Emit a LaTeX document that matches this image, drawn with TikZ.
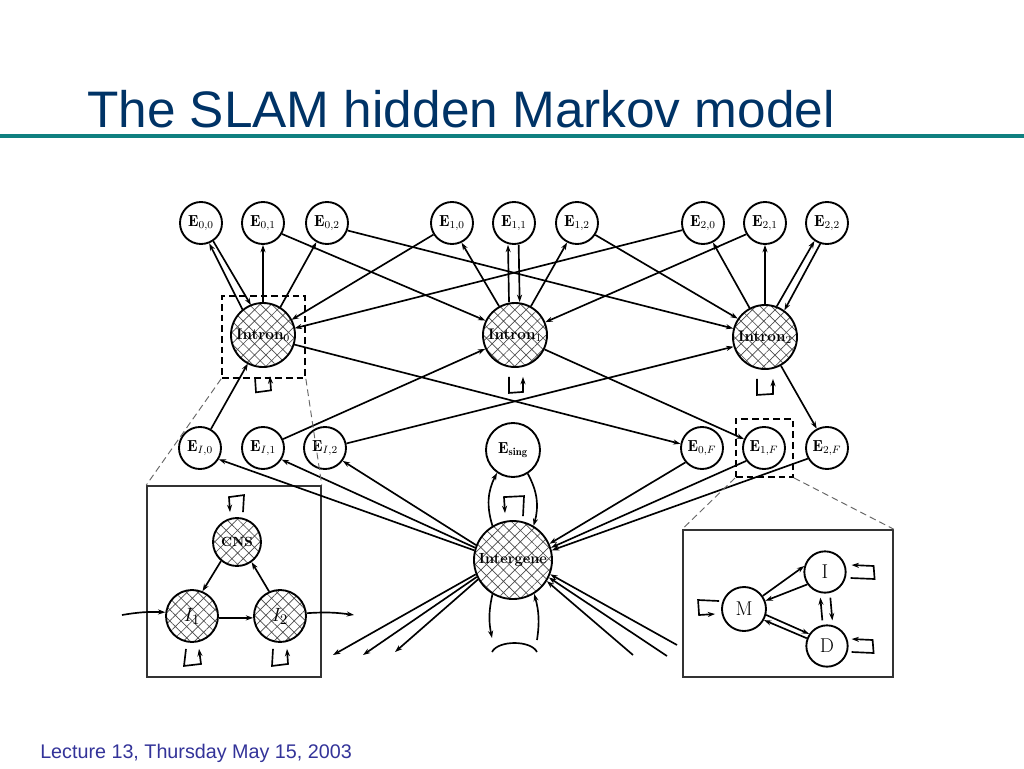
\documentclass[tikz,border=0pt]{standalone}
\usepackage{fontspec}
\newfontfamily\arialf{Liberation Sans}
\usetikzlibrary{arrows.meta,patterns.meta,calc}
\definecolor{titleblue}{RGB}{0,51,102}
\definecolor{footblue}{RGB}{51,51,153}
\definecolor{rulecol}{RGB}{16,128,128}
\tikzset{
  sn/.style={circle, draw, line width=1.4pt, minimum size=31.5pt, inner sep=0pt, fill=white,
     font=\fontsize{12}{14}\selectfont},
  hn/.style={circle, draw, line width=1.4pt, minimum size=48pt, inner sep=0pt,
     pattern={Hatch[angle=45,distance=6pt,line width=0.5pt]}, pattern color=black!70,
     font=\fontsize{11.5}{13}\selectfont},
  arr/.style={-{Stealth[length=5.5pt,width=3.8pt]}, line width=1.25pt},
  ln/.style={line width=1.25pt},
  dbox/.style={rectangle, draw, dashed, dash pattern=on 5pt off 3pt, line width=1.3pt, inner sep=0pt},
  ibox/.style={rectangle, draw=black!80, line width=1.2pt, inner sep=0pt},
  zoomln/.style={draw=black!60, dash pattern=on 5pt off 3pt, line width=0.7pt},
}
\begin{document}
\begin{tikzpicture}[x=0.75pt,y=-0.75pt]
\useasboundingbox (0,0) rectangle (1024,768);
\fill[white] (0,0) rectangle (1024,768);

% title and footer
\node[anchor=base west, inner sep=0pt, text=titleblue, font=\arialf\fontsize{38.5}{40}\selectfont] (title) at (87,127) {The SLAM hidden Markov model};
\fill[rulecol] (0,134) rectangle (1024,138);
\node[anchor=base west, inner sep=0pt, text=footblue, font=\arialf\fontsize{14.8}{16}\selectfont] (foot) at (40,758) {Lecture 13, Thursday May 15, 2003};

% inset boxes and dashed boxes
\node[ibox, minimum width=130.5pt, minimum height=143.25pt] (insL) at (234,581.5) {};
\node[ibox, minimum width=157.5pt, minimum height=110.25pt] (insR) at (788,603.5) {};
\node[dbox, minimum width=62.25pt, minimum height=61.5pt] (box0) at (263.5,337) {};
\node[dbox, minimum width=42.75pt, minimum height=43.5pt] (box1F) at (764.5,448) {};

% top row
\node[sn] (e00) at (201,223) {$\mathbf{E}_{0,0}$};
\node[sn] (e01) at (263,223) {$\mathbf{E}_{0,1}$};
\node[sn] (e02) at (327,223) {$\mathbf{E}_{0,2}$};
\node[sn] (e10) at (452,223) {$\mathbf{E}_{1,0}$};
\node[sn] (e11) at (514,223) {$\mathbf{E}_{1,1}$};
\node[sn] (e12) at (577,223) {$\mathbf{E}_{1,2}$};
\node[sn] (e20) at (703,223) {$\mathbf{E}_{2,0}$};
\node[sn] (e21) at (765,223) {$\mathbf{E}_{2,1}$};
\node[sn] (e22) at (827,223) {$\mathbf{E}_{2,2}$};

% introns
\node[hn] (in0) at (263,335) {\textbf{Intron}${}_0$};
\node[hn] (in1) at (515,335) {\textbf{Intron}${}_1$};
\node[hn] (in2) at (765,337) {\textbf{Intron}${}_2$};

% middle row
\node[sn] (eI0) at (200,448) {$\mathbf{E}_{I,0}$};
\node[sn] (eI1) at (263,448) {$\mathbf{E}_{I,1}$};
\node[sn] (eI2) at (325,448) {$\mathbf{E}_{I,2}$};
\node[sn, minimum size=40.5pt] (esing) at (513,450) {$\mathbf{E}_{\mathbf{sing}}$};
\node[sn] (e0F) at (702,448) {$\mathbf{E}_{0,F}$};
\node[sn] (e1F) at (764,448) {$\mathbf{E}_{1,F}$};
\node[sn] (e2F) at (827,448) {$\mathbf{E}_{2,F}$};

% intergene
\node[hn, minimum size=58.5pt, font=\fontsize{11}{12}\selectfont] (ig) at (513,560) {\textbf{Intergene}};

% left inset
\node[hn, minimum size=36pt, font=\fontsize{10}{11}\selectfont] (cns) at (237,542) {\textbf{CNS}};
\node[hn, minimum size=39pt, font=\fontsize{15}{16}\selectfont] (i1) at (192,616) {$I_1$};
\node[hn, minimum size=39pt, font=\fontsize{15}{16}\selectfont] (i2) at (280,616) {$I_2$};

% right inset
\node[sn, minimum size=33pt, font=\fontsize{15}{16}\selectfont] (M) at (744,609) {M};
\node[sn, minimum size=31pt, font=\fontsize{15}{16}\selectfont] (I) at (825,572) {I};
\node[sn, minimum size=31pt, font=\fontsize{15}{16}\selectfont] (D) at (827,646) {D};

% ---- edges: intron 0 ----
\draw[arr] (in0.129) -- (e00.-68);
\draw[arr] (e00.-56) -- (in0.112);
\draw[arr] (in0.north) -- (e01.south);
\draw[arr] (in0.58) -- (e02.-119);
\draw[arr] (e01.-30) -- (in1.154);
\draw[arr] (e02.-20) -- (in2.165);
\draw[arr] (e10.212) -- (in0.28);
\draw[arr] (e20.199) -- (in0.12);
% intron 1
\draw[arr] (in1.119) -- (e10.-64);
\draw[arr] ([xshift=-4.5pt]in1.north) -- ([xshift=-4.5pt]e11.south);
\draw[arr] ([xshift=3.5pt]e11.south) -- ([xshift=3.5pt]in1.north);
\draw[arr] (in1.61) -- (e12.-117);
\draw[arr] (e12.-33) -- (in2.146);
\draw[arr] (e21.211) -- (in1.23);
% intron 2
\draw[arr] (in2.118) -- (e20.-63);
\draw[arr] (in2.north) -- (e21.south);
\draw[arr] (in2.69) -- (e22.-125);
\draw[arr] (e22.-108) -- (in2.54);
% initial exons
\draw[arr] (eI0.60) -- (in0.-118);
\draw[arr] (eI1.24) -- (in1.205);
\draw[arr] (eI2.12) -- (in2.197);
% final exons
\draw[arr] (in0.-17) -- (e0F.169);
\draw[arr] (in1.-26) -- (e1F.156);
\draw[arr] (in2.-61) -- (e2F.118);
\draw[arr] (e0F.221) -- (ig.24);
\draw[arr] (e1F.216) -- (ig.18);
\draw[arr] (e2F.209) -- (ig.14);
% intergene to initial exons
\draw[arr] (ig.158) -- (eI2.-36);
\draw[arr] (ig.162) -- (eI1.-32);
\draw[arr] (ig.166) -- (eI0.-31);
% single exon
\draw[arr] (ig.121) to[bend left=22] (esing.-125);
\draw[arr] (esing.-58) to[bend left=22] (ig.59);
% self loops
\draw[arr] ($(in0.south)+(-8,10)$) -- ++(1,15) -- ++(15,-2) -- ++(-1,-14);
\draw[arr] ($(in1.south)+(-6,9)$) -- ++(0,16) -- ++(14,-1) -- ++(0,-15);
\draw[arr] ($(in2.south)+(-8,9)$) -- ++(0,16) -- ++(16,-1) -- ++(0,-15);
\draw[arr] ($(ig.north)+(10,-4)$) -- ++(1,-20) -- ++(-20,1) -- ++(1,16);
% intergene other strand
\coordinate (o1) at (333,655);
\coordinate (o2) at (363,655);
\coordinate (o3) at (395,652);
\draw[arr] (ig.201) -- (o1);
\draw[arr] (ig.205) -- (o2);
\draw[arr] (ig.209) -- (o3);
\coordinate (r1) at (633,655);
\coordinate (r2) at (667,656);
\coordinate (r3) at (677,645);
\draw[arr] (r1) -- (ig.-32);
\draw[arr] (r2) -- (ig.-26);
\draw[arr] (r3) -- (ig.-21);
\coordinate (bl) at (492,638);
\coordinate (br) at (537,640);
\coordinate (arcL) at (492,652);
\coordinate (arcR) at (537,652);
\draw[arr] (ig.-121) to[bend right=12] (bl);
\draw[arr] (br) to[bend right=12] (ig.-58);
\draw[ln] (arcL) .. controls +(6,-12) and +(-6,-12) .. (arcR);

% left inset edges
\draw[arr] (cns.-130) -- (i1.67);
\draw[arr] (i2.114) -- (cns.-54);
\draw[arr] (i1.-4) -- (i2.184);
\coordinate (lin) at (122,615);
\coordinate (lout) at (354,615);
\draw[arr] (lin) to[bend left=6] (i1.172);
\draw[arr] (i2.6) to[bend left=6] (lout);
\draw[arr] ($(cns.north)+(6,-5)$) -- ++(1,-17) -- ++(-15,2) -- ++(1,15);
\draw[arr] ($(i1.south)+(-6,6)$) -- ++(-2,17) -- ++(17,-2) -- ++(-2,-15);
\draw[arr] ($(i2.south)+(-7,6)$) -- ++(-1,17) -- ++(16,-2) -- ++(-1,-15);

% right inset edges
\draw[arr] (M.35) -- (I.164);
\draw[arr] (I.215) -- (M.21);
\draw[arr] (M.-15) -- (D.146);
\draw[arr] (D.159) -- (M.-29);
\draw[arr] ([xshift=-3.5pt,yshift=3pt]D.north) -- ([xshift=-3.5pt,yshift=-3pt]I.south);
\draw[arr] ([xshift=4pt,yshift=-3pt]I.south) -- ([xshift=4pt,yshift=3pt]D.north);
\draw[arr] ($(M.west)+(-2,-8)$) -- ++(-21,-1) -- ++(1,15) -- ++(16,-1);
\draw[arr] ($(I.east)+(4,6)$) -- ++(24,1) -- ++(-1,-13) -- ++(-22,-1);
\draw[arr] ($(D.east)+(3,6)$) -- ++(22,1) -- ++(-1,-13) -- ++(-21,-1);

% zoom lines
\draw[zoomln] (box0.south west) -- (insL.north west);
\draw[zoomln] (box0.south east) -- (insL.north east);
\draw[zoomln] (box1F.south west) -- (insR.north west);
\draw[zoomln] (box1F.south east) -- (insR.north east);
\end{tikzpicture}
\end{document}
